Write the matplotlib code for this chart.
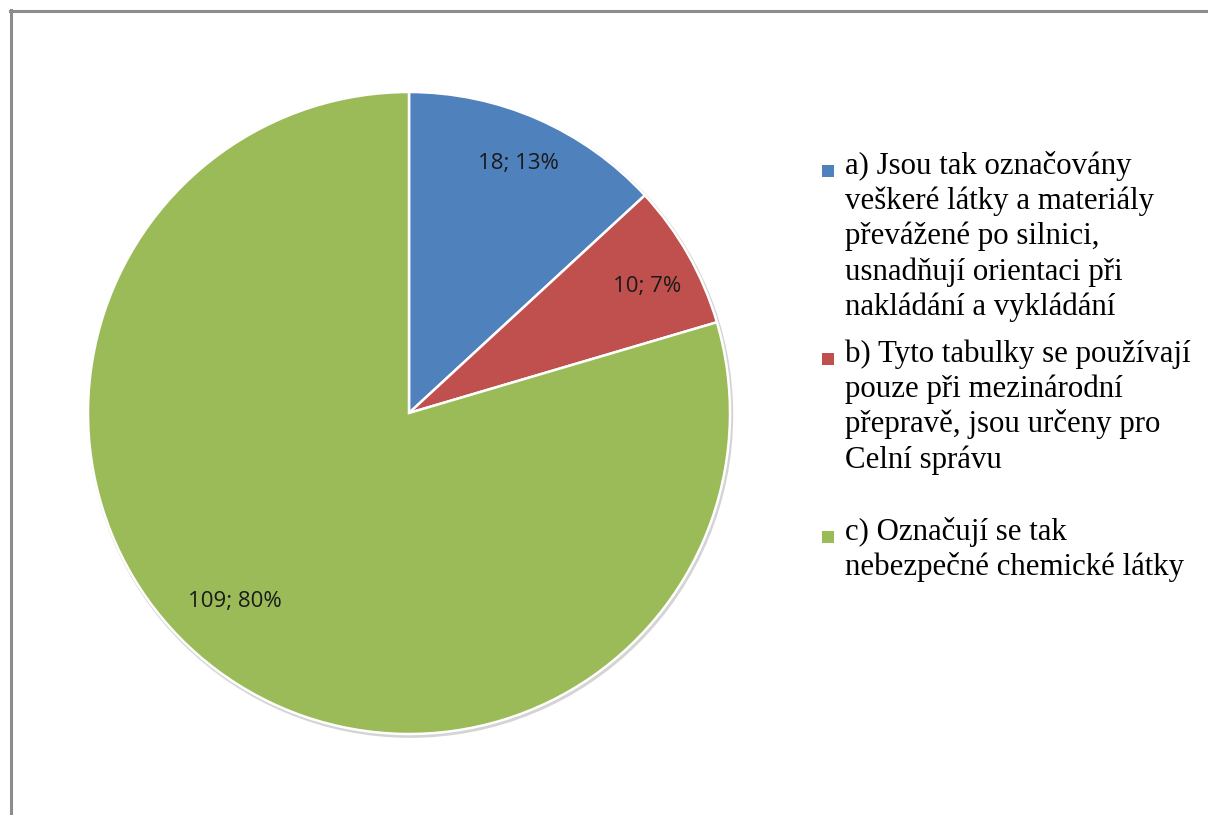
import numpy as np
import matplotlib
matplotlib.use('Agg')
import matplotlib.pyplot as plt
from matplotlib.patches import Rectangle, Circle
from matplotlib.lines import Line2D

# data
answers = ['a) Jsou tak označovány\nveškeré látky a materiály\npřevážené po silnici,\nusnadňují orientaci při\nnakládání a vykládání',
           'b) Tyto tabulky se používají\npouze při mezinárodní\npřepravě, jsou určeny pro\nCelní správu',
           'c) Označují se tak\nnebezpečné chemické látky']
counts = [18, 10, 109]
colors = ['#4F81BD', '#C0504D', '#9BBB59']

W, H = 1208, 815
fig = plt.figure(figsize=(W / 100, H / 100), dpi=100)
fig.patch.set_facecolor('white')

# pie area in pixels (center x, center y from top, radius)
cx, cy, R = 409, 413, 321
ax = fig.add_axes([(cx - R) / W, (H - cy - R) / H, 2 * R / W, 2 * R / H])

# soft outline / shadow behind the pie
ax.add_patch(Circle((0.004, -0.006), 1.006, facecolor='#d4d4d4', edgecolor='none', zorder=0))

wedges, _ = ax.pie(counts, colors=colors, startangle=90, counterclock=False, radius=1,
                   wedgeprops=dict(edgecolor='white', linewidth=1.8))
for w in wedges:
    w.set_zorder(1)

# data labels "count; pct"
total = sum(counts)
label_r = [0.85, 0.84, 0.80]
label_shift = [0, -1.5, -6]
for i, w in enumerate(wedges):
    mid = np.deg2rad((w.theta1 + w.theta2) / 2 + label_shift[i])
    pct = int(round(100.0 * counts[i] / total))
    ax.text(label_r[i] * np.cos(mid), label_r[i] * np.sin(mid), '%d; %d%%' % (counts[i], pct),
            ha='center', va='center', fontsize=16, family='Open Sans', color='#1a1a1a', zorder=3)

ax.set_xlim(-1.02, 1.02)
ax.set_ylim(-1.02, 1.02)
ax.set_aspect('equal')
ax.axis('off')
ax.set_position([(cx - R * 1.02) / W, (H - cy - R * 1.02) / H, 2 * R * 1.02 / W, 2 * R * 1.02 / H])

# legend drawn by hand, lines placed at fixed baselines
first_base = [174, 362, 540]
line_step = 35.2
text_x = 845
for i, lab in enumerate(answers):
    for k, line in enumerate(lab.split('\n')):
        yb = first_base[i] + k * line_step
        fig.text(text_x / W, 1 - yb / H, line, ha='left', va='baseline',
                 fontsize=22.2, family='Liberation Serif', color='black')
    sq = 12
    fig.add_artist(Rectangle((822 / W, 1 - (first_base[i] + 3) / H), sq / W, sq / H,
                             transform=fig.transFigure, facecolor=colors[i], edgecolor='none'))

# chart frame (cut off at right and bottom)
fig.add_artist(Line2D([11 / W, 11 / W], [0, 1 - 10 / H], transform=fig.transFigure,
                      color='#8c8c8c', linewidth=2.2))
fig.add_artist(Line2D([10 / W, 1], [1 - 11 / H, 1 - 11 / H], transform=fig.transFigure,
                      color='#8c8c8c', linewidth=2.2))

fig.savefig('out.png', dpi=100)
